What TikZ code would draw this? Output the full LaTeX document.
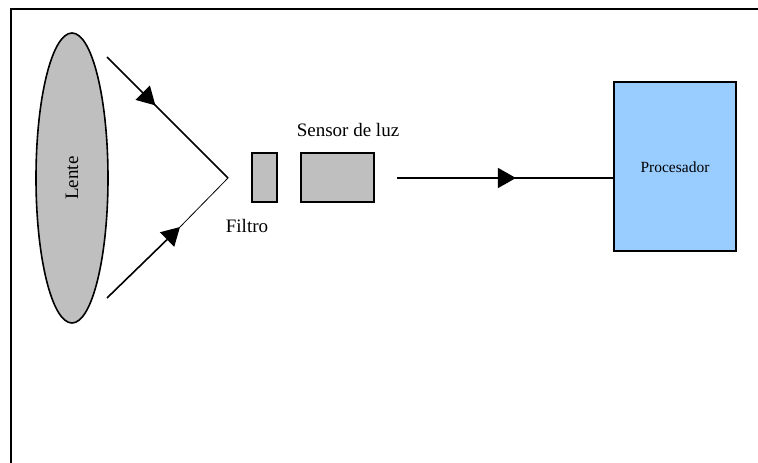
\documentclass[tikz,border=0pt]{standalone}
\usepackage{fontspec}
\setmainfont{Liberation Serif}
\usetikzlibrary{shapes.geometric,arrows.meta,decorations.markings}
\begin{document}
\begin{tikzpicture}[x=1pt,y=-1pt,
  line width=1.6pt,
  tri/.tip={Triangle[length=18pt,width=20pt]},
  midarrow/.style={postaction={decorate},decoration={markings,mark=at position #1 with {\arrow{tri}}}},
  graybox/.style={draw,fill=gray!50,line width=1.6pt,inner sep=0pt},
  lbl/.style={font=\fontsize{19}{22}\selectfont,inner sep=0pt}
]
\useasboundingbox (0,0) rectangle (758,463);
\draw (11,463) -- (11,9) -- (758,9);
\node[ellipse,graybox,minimum width=72pt,minimum height=290pt] (lens) at (72,178) {};
\node[lbl,rotate=90] (lenslbl) at (72,178) {Lente};
\coordinate (a1) at (107,57);
\coordinate (apex) at (228,178);
\coordinate (a2) at (107,298);
\coordinate (lowtip) at (180,227);
\draw[midarrow=0.4] (a1) -- (apex);
\draw[line width=0.8pt] (lowtip) -- (apex);
\draw[-tri] (a2) -- (lowtip);
\node[graybox,minimum width=25pt,minimum height=49pt] (filter) at (264.5,177.5) {};
\node[graybox,minimum width=73pt,minimum height=49pt] (sensor) at (337.5,177.5) {};
\node[lbl] (filterlbl) at (247,226) {Filtro};
\node[lbl] (sensorlbl) at (348,130) {Sensor de luz};
\node[draw,fill={rgb,255:red,153;green,204;blue,255},line width=1.6pt,minimum width=122pt,minimum height=169pt,inner sep=0pt] (proc) at (675,166.5) {};
\node[font=\fontsize{15.5}{18}\selectfont,inner sep=0pt] (proclbl) at (675,167) {Procesador};
\coordinate (s1) at (397,178);
\draw[midarrow=0.55] (s1) -- (proc.west |- s1);
\end{tikzpicture}
\end{document}
